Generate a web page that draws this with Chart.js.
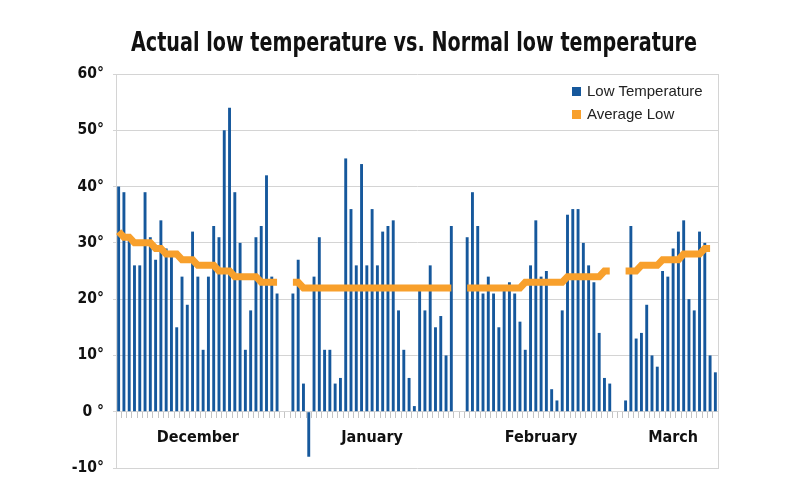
<!DOCTYPE html>
<html>
<head>
<meta charset="utf-8">
<script src="https://cdn.jsdelivr.net/npm/chart.js@4.4.1/dist/chart.umd.min.js"></script>
<style>
  body { margin: 0; background: #fff; }
  #wrap { position: relative; width: 800px; height: 494px; }
  #legend { position: absolute; font-family: "Liberation Sans", Arial, sans-serif; font-size: 15px; color: #222; }
  #legend div { height: 23px; line-height: 23px; white-space: nowrap; }
  #legend span { display: inline-block; width: 9px; height: 9px; margin-right: 6px; vertical-align: 0px; }
</style>
</head>
<body>
<div id="wrap">
  <canvas id="myChart" width="800" height="494"></canvas>
  <div id="legend"></div>
</div>
<script>
// months shown on the x axis
var months = ['December', 'January', 'February', 'March'];

// daily low temperature
var lowDec = [40, 39, 31, 26, 26, 39, 31, 27, 34, 29, 28, 15, 24, 19, 32, 24, 11, 24, 33, 31, 50, 54, 39, 30, 11, 18, 31, 33, 42, 24, 21];
var lowJan = [21, 27, 5, -8, 24, 31, 11, 11, 5, 6, 45, 36, 26, 44, 26, 36, 26, 32, 33, 34, 18, 11, 6, 1, 22, 18, 26, 15, 17, 10, 33];
var lowFeb = [31, 39, 33, 21, 24, 21, 15, 22, 23, 21, 16, 11, 26, 34, 24, 25, 4, 2, 18, 35, 36, 36, 30, 26, 23, 14, 6, 5];
var lowMar = [2, 33, 13, 14, 19, 10, 8, 25, 24, 29, 32, 34, 20, 18, 32, 30, 10, 7];

// normal (average) low
var avgDec = [32, 31, 31, 30, 30, 30, 30, 29, 29, 28, 28, 28, 27, 27, 27, 26, 26, 26, 26, 25, 25, 25, 24, 24, 24, 24, 24, 23, 23, 23, 23];
var avgJan = [23, 23, 22, 22, 22, 22, 22, 22, 22, 22, 22, 22, 22, 22, 22, 22, 22, 22, 22, 22, 22, 22, 22, 22, 22, 22, 22, 22, 22, 22, 22];
var avgFeb = [22, 22, 22, 22, 22, 22, 22, 22, 22, 22, 22, 23, 23, 23, 23, 23, 23, 23, 23, 24, 24, 24, 24, 24, 24, 24, 25, 25];
var avgMar = [25, 25, 25, 26, 26, 26, 26, 27, 27, 27, 27, 28, 28, 28, 28, 29, 29, null];

// y axis ticks
var yTicks = [-10, 0, 10, 20, 30, 40, 50, 60];

// empty slots between months
var gapSlots = 2;

var lowByMonth = [lowDec, lowJan, lowFeb, lowMar];
var avgByMonth = [avgDec, avgJan, avgFeb, avgMar];

var labels = [];
var lowData = [];
var avgData = [];
var monthTickAt = {};

lowByMonth.forEach(function (low, m) {
    if (m > 0) {
        for (var g = 0; g < gapSlots; g++) {
            labels.push('');
            lowData.push(null);
            avgData.push(null);
        }
    }
    monthTickAt[labels.length + Math.floor(low.length / 2)] = months[m];
    low.forEach(function (v, d) {
        labels.push(months[m] + ' ' + (d + 1));
        lowData.push(v);
        avgData.push(avgByMonth[m][d]);
    });
});

var blue = '#16589c';
var orange = '#f8a02c';
var gridGray = '#d4d4d4';
var boldFont = '"Liberation Sans Narrow", "DejaVu Sans Condensed", Arial, sans-serif';

// narrows the title box so the text gets squeezed like a condensed face
var titleWidth = {
    id: 'titleWidth',
    afterLayout: function (chart) {
        var t = chart.titleBlock;
        if (t) {
            t.left += 15;
            t.right -= 21;
            t.width = t.right - t.left;
        }
    }
};

var config = {
    type: 'bar',
    data: {
        labels: labels,
        datasets: [
            {
                label: 'Low Temperature',
                data: lowData,
                backgroundColor: blue,
                barPercentage: 0.55,
                categoryPercentage: 1,
                order: 1
            },
            {
                type: 'line',
                label: 'Average Low',
                data: avgData,
                borderColor: orange,
                backgroundColor: orange,
                borderWidth: 7,
                pointRadius: 0,
                tension: 0,
                spanGaps: false,
                order: 0
            }
        ]
    },
    options: {
        responsive: false,
        animation: false,
        layout: { padding: { left: 0, right: 0, top: 0, bottom: 26 } },
        plugins: {
            legend: { display: false },
            tooltip: { enabled: false },
            title: {
                display: true,
                fullSize: false,
                text: 'Actual low temperature vs. Normal low temperature',
                color: '#111',
                font: { family: boldFont, size: 27, weight: 'bold' },
                padding: { top: 28, bottom: 13.6 }
            }
        },
        scales: {
            x: {
                position: { y: 0 },
                grid: { display: true, drawOnChartArea: false, drawTicks: true, tickLength: 6, color: '#c4c4c4' },
                border: { color: gridGray },
                ticks: {
                    autoSkip: false,
                    maxRotation: 0,
                    padding: 11,
                    color: '#111',
                    font: { family: boldFont, size: 16, weight: 'bold' },
                    callback: function (val, idx) { return monthTickAt[idx] || ''; }
                }
            },
            y: {
                min: -10,
                max: 60,
                afterFit: function (scale) { scale.width = 116; },
                afterBuildTicks: function (scale) { scale.ticks = yTicks.map(function (v) { return { value: v }; }); },
                grid: { color: gridGray, tickLength: 3 },
                border: { color: gridGray },
                ticks: {
                    padding: 9,
                    color: '#111',
                    font: { family: boldFont, size: 15.5, weight: 'bold' },
                    callback: function (v) { return v === 0 ? '0 °' : v + '°'; }
                }
            },
            yRight: {
                position: 'right',
                min: -10,
                max: 60,
                afterFit: function (scale) { scale.width = 82; },
                grid: { display: false },
                border: { display: true, color: gridGray },
                ticks: { display: false }
            }
        }
    },
    plugins: [titleWidth]
};

var myChart = new Chart(document.getElementById('myChart'), config);

// html legend in the top right corner of the plot
function buildLegend(chart) {
    var box = document.getElementById('legend');
    box.innerHTML = '';
    chart.data.datasets.forEach(function (ds) {
        var row = document.createElement('div');
        row.innerHTML = '<span style="background:' + ds.backgroundColor + '"></span>' + ds.label;
        box.appendChild(row);
    });
    var area = chart.chartArea;
    box.style.left = (area.right - 146) + 'px';
    box.style.top = (area.top + 5) + 'px';
}
buildLegend(myChart);
</script>
</body>
</html>
